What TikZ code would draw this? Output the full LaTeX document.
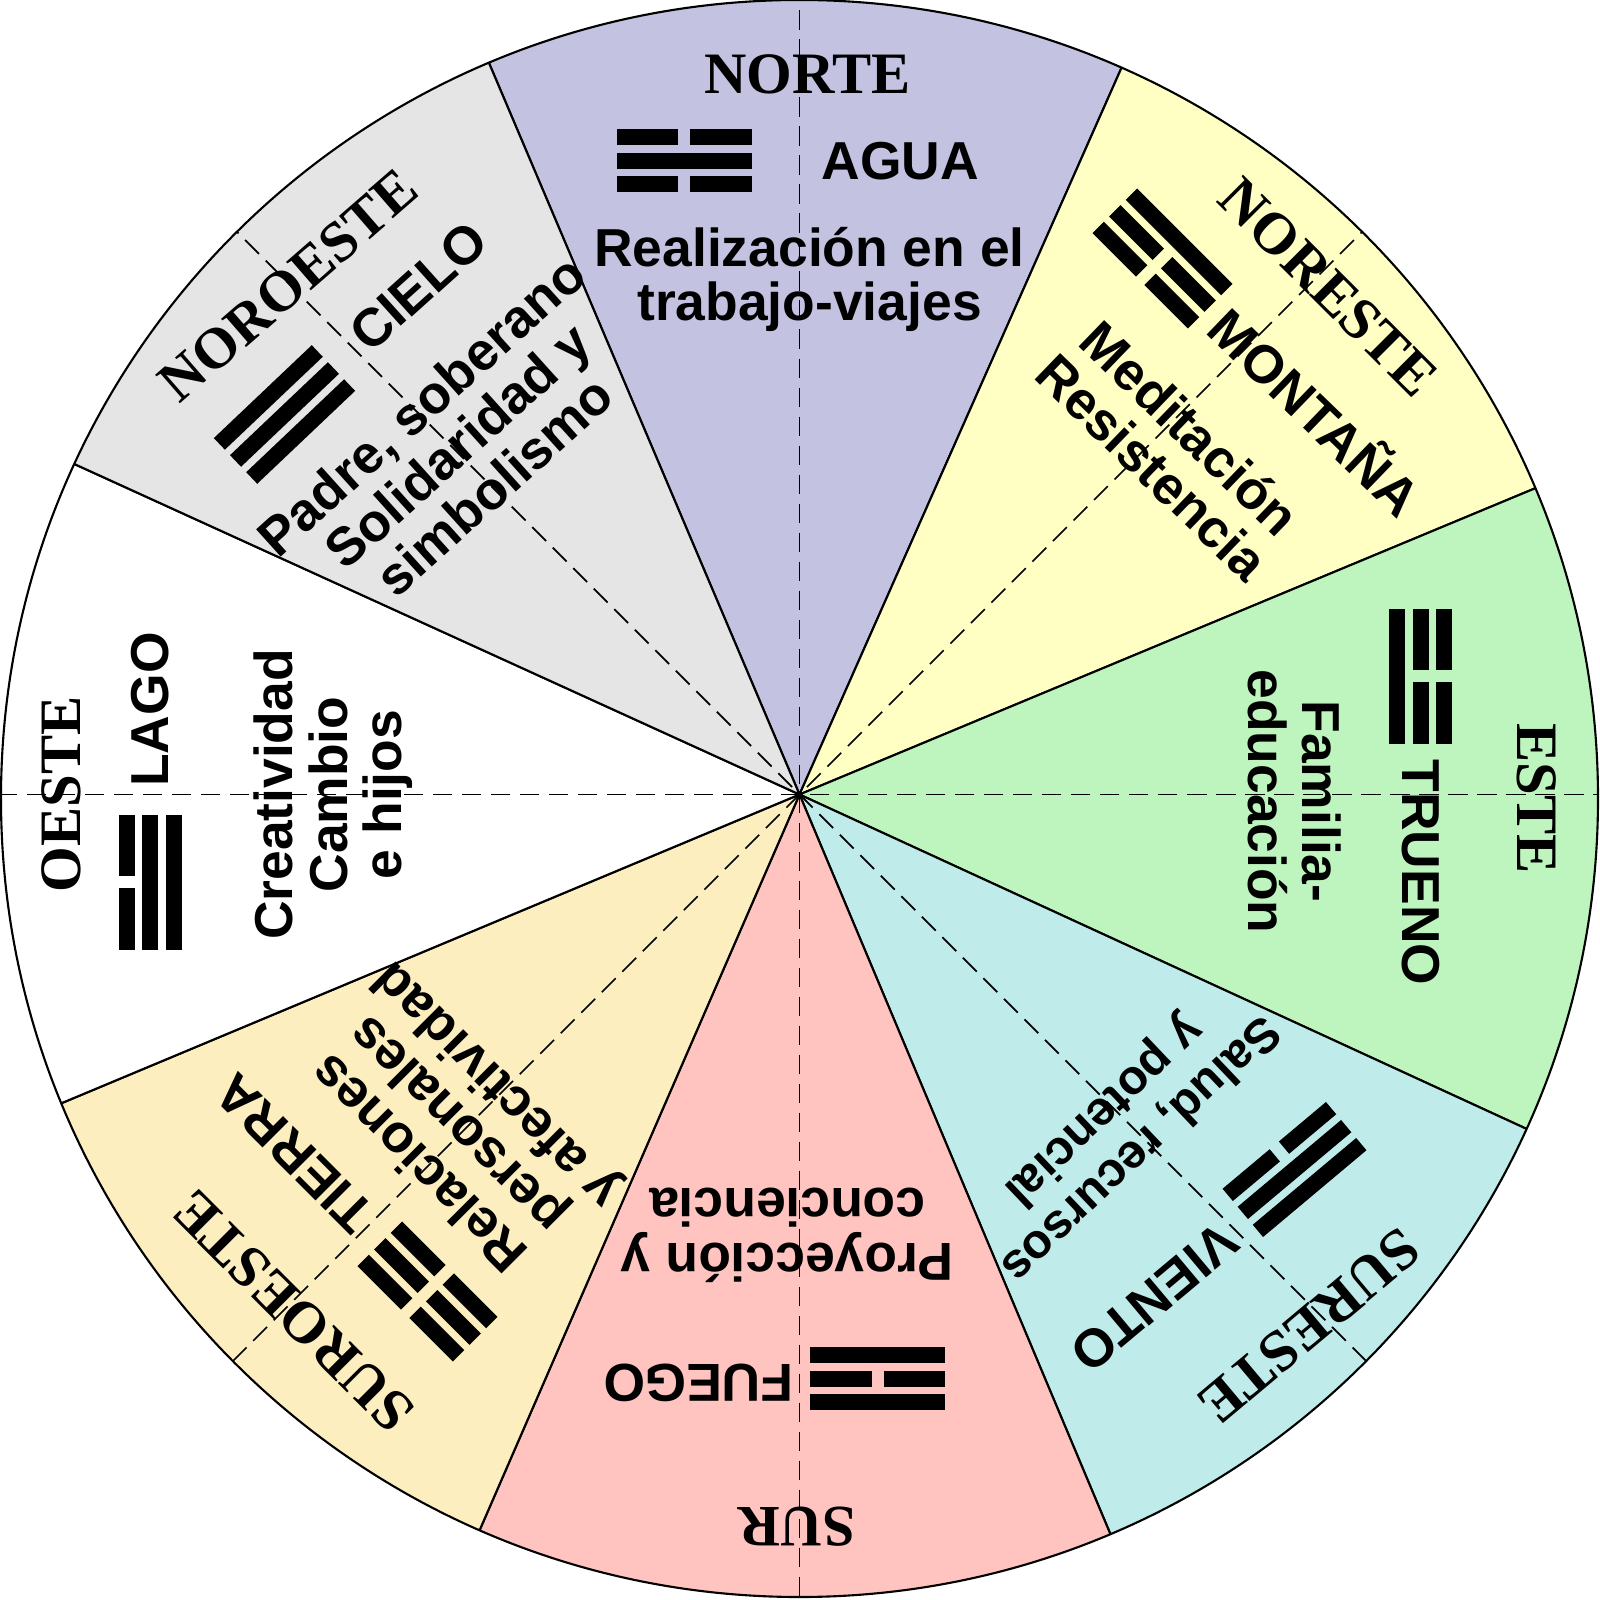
\documentclass[tikz,border=0pt]{standalone}
\usepackage{fontspec}
\setmainfont{Liberation Serif}
\setsansfont{Liberation Sans}
\usepackage{xcolor}
\usepackage{tikz}
\usetikzlibrary{calc}
\definecolor{nortecol}{HTML}{C3C2E1}
\definecolor{norestecol}{HTML}{FFFFC4}
\definecolor{estecol}{HTML}{BEF5BE}
\definecolor{surestecol}{HTML}{BFECEA}
\definecolor{surcol}{HTML}{FFC4C0}
\definecolor{suroestecol}{HTML}{FDEEBF}
\definecolor{noroestecol}{HTML}{E5E5E5}
\tikzstyle{sector} = [draw=black, line width=0.6pt]
\tikzstyle{axis} = [draw=black, line width=0.5pt, dash pattern=on 0.195cm off 0.095cm]
\tikzstyle{dirlabel} = [inner sep=0pt, font=\fontsize{16.7}{18}\selectfont\bfseries]
\tikzstyle{elemlabel} = [inner sep=0pt, font=\fontsize{15.2}{15.5}\selectfont\sffamily\bfseries]
\tikzstyle{desclabel} = [elemlabel, align=center]
\newcommand{\yangbar}[1]{\fill (-0.675,#1-0.08) rectangle (0.675,#1+0.08);}
\newcommand{\yinbar}[1]{\fill (-0.675,#1-0.08) rectangle (-0.06,#1+0.08);
  \fill (0.06,#1-0.08) rectangle (0.675,#1+0.08);}
\begin{document}
\begin{tikzpicture}
  \useasboundingbox (-7.995,-8.055) rectangle (8.005,7.945);
  \coordinate (ctr) at (0,0);
  \coordinate (rim) at (0,-0.04);

  \begin{scope}
    \clip (rim) circle (7.985);
    \draw[sector, fill=nortecol](ctr)--(113:10)--(66.1:10)--cycle;
    \draw[sector, fill=norestecol](ctr)--(66.1:10)--(22.6:10)--cycle;
    \draw[sector, fill=estecol](ctr)--(22.6:10)--(-24.7:10)--cycle;
    \draw[sector, fill=surestecol](ctr)--(-24.7:10)--(-67.2:10)--cycle;
    \draw[sector, fill=surcol](ctr)--(-67.2:10)--(-113.5:10)--cycle;
    \draw[sector, fill=suroestecol](ctr)--(-113.5:10)--(-157.3:10)--cycle;
    \draw[sector, fill=white](ctr)--(-157.3:10)--(-204.5:10)--cycle;
    \draw[sector, fill=noroestecol](ctr)--(-204.5:10)--(-247:10)--cycle;

    \coordinate (axn) at (90:9);
    \coordinate (axs) at (-90:9);
    \coordinate (axe) at (0:9);
    \coordinate (axw) at (180:9);
    \coordinate (axne) at (45:9);
    \coordinate (axsw) at (225:9);
    \coordinate (axnw) at (135:9);
    \coordinate (axse) at (-45:9);
    \draw[axis](axn)--(axs);
    \draw[axis](axe)--(axw);
    \draw[axis](axne)--(axsw);
    \draw[axis](axnw)--(axse);
  \end{scope}
  \draw[sector](rim) circle (7.985);

  \node[dirlabel] (norte) at (0.08,7.2) {NORTE};
  \node[elemlabel] (agua) at (1.01,6.33) {AGUA};
  \node[desclabel] (norted) at (0.10,5.15) {Realización en el\\trabajo-viajes};
  \begin{scope}[shift={(-1.155,6.335)}]
    \yinbar{0.235}\yangbar{0}\yinbar{-0.235}
  \end{scope}

  \node[dirlabel, rotate=-45] (noreste) at (5.29,5.07) {NORESTE};
  \node[elemlabel, rotate=-44] (montana) at (5.18,3.85) {MONTAÑA};
  \node[desclabel, rotate=-44] (norested) at (3.72,3.47) {Meditación\\Resistencia};
  \begin{scope}[shift={(3.63,5.36)}, rotate=-45]
    \yangbar{0.235}\yinbar{0}\yinbar{-0.235}
  \end{scope}

  \node[dirlabel, rotate=-90] (este) at (7.37,-0.04) {ESTE};
  \node[elemlabel, rotate=-90] (trueno) at (6.21,-0.78) {TRUENO};
  \node[desclabel, rotate=-90] (ested) at (4.95,-0.07) {Familia-\\educación};
  \begin{scope}[shift={(6.21,1.18)}, rotate=-90]
    \yinbar{0.235}\yinbar{0}\yangbar{-0.235}
  \end{scope}

  \node[dirlabel, rotate=220] (sureste) at (5.1,-5.32) {SURESTE};
  \node[elemlabel, rotate=220] (viento) at (3.55,-5.03) {VIENTO};
  \node[desclabel, rotate=223.5, font=\fontsize{13.8}{15}\selectfont\sffamily\bfseries] (surested) at (3.215,-3.345) {Salud, recursos\\y potencial};
  \begin{scope}[shift={(4.95,-3.75)}, rotate=220]
    \yangbar{0.235}\yangbar{0}\yinbar{-0.235}
  \end{scope}

  \node[dirlabel, rotate=180] (sur) at (-0.03,-7.32) {SUR};
  \node[elemlabel, rotate=180] (fuego) at (-1.01,-5.88) {FUEGO};
  \node[desclabel, rotate=180] (surd) at (-0.12,-4.41) {Proyección y\\conciencia};
  \begin{scope}[shift={(0.78,-5.84)}, rotate=180]
    \yangbar{0.235}\yinbar{0}\yangbar{-0.235}
  \end{scope}

  \node[dirlabel, rotate=135] (suroeste) at (-5.06,-5.17) {SUROESTE};
  \node[elemlabel, rotate=135] (tierra) at (-5.05,-3.59) {TIERRA};
  \node[desclabel, rotate=135] (suroested) at (-3.40,-3.28) {Relaciones\\personales\\y afectividad};
  \begin{scope}[shift={(-3.72,-4.97)}, rotate=135]
    \yinbar{0.235}\yinbar{0}\yinbar{-0.235}
  \end{scope}

  \node[dirlabel, rotate=90] (oeste) at (-7.38,0) {OESTE};
  \node[elemlabel, rotate=90] (lago) at (-6.49,0.85) {LAGO};
  \node[desclabel, rotate=90] (oested) at (-4.66,0) {Creatividad\\Cambio\\e hijos};
  \begin{scope}[shift={(-6.49,-0.88)}, rotate=90]
    \yinbar{0.235}\yangbar{0}\yangbar{-0.235}
  \end{scope}

  \node[dirlabel, rotate=41, font=\fontsize{16.4}{18}\selectfont\bfseries] (noroeste) at (-5.11,5.09) {NOROESTE};
  \node[elemlabel, rotate=42] (cielo) at (-3.81,5.08) {CIELO};
  \node[desclabel, rotate=42] (noroested) at (-3.42,3.49) {Padre, soberano\\Solidaridad y\\simbolismo};
  \begin{scope}[shift={(-5.15,3.80)}, rotate=43.5]
    \yangbar{0.235}\yangbar{0}\yangbar{-0.235}
  \end{scope}
\end{tikzpicture}
\end{document}
